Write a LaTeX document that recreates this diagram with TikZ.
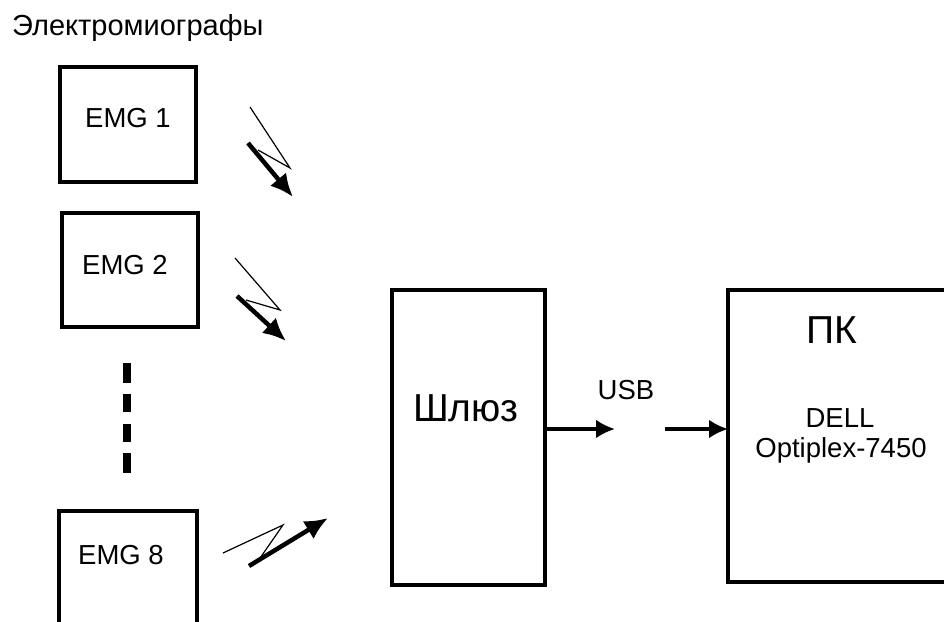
\documentclass[tikz,border=0pt]{standalone}
\usepackage{fontspec}
\setmainfont{Liberation Sans}
\usetikzlibrary{arrows.meta}
\begin{document}
\begin{tikzpicture}[x=1pt,y=-1pt,
  box/.style={draw,line width=3.2pt},
  lbl/.style={font=\fontsize{27.5}{30}\selectfont,inner sep=0pt},
  ttl/.style={font=\fontsize{29}{32}\selectfont,inner sep=0pt},
  big/.style={font=\fontsize{39}{42}\selectfont,inner sep=0pt},
  thinz/.style={line width=1.2pt},
  thickz/.style={line width=4.5pt,-{Latex[length=23pt,width=21pt]}},
  link/.style={line width=4.5pt,-{Latex[length=19pt,width=19pt]}},
  dashbar/.style={fill=black}]
\useasboundingbox (0,0) rectangle (944,621);
% title
\node[ttl,anchor=west] (title) at (12,28) {Электромиографы};
% EMG boxes
\draw[box] (60,67) rectangle (196,182);
\node[lbl] (e1) at (128,118) {EMG 1};
\draw[box] (62,213) rectangle (198,327);
\node[lbl] (e2) at (125,265) {EMG 2};
\draw[box] (59,640) -- (59,511) -- (197,511) -- (197,640);
\node[lbl] (e8) at (121,555) {EMG 8};
% dashes
\fill[dashbar] (123,363) rectangle (131,383);
\fill[dashbar] (123,394) rectangle (131,412);
\fill[dashbar] (123,424) rectangle (131,442);
\fill[dashbar] (123,453) rectangle (131,473);
% gateway
\node[box,minimum width=153pt,minimum height=295pt,inner sep=0pt] (gw) at (468.5,437.5) {};
\node[big] (gwt) at (466,408) {Шлюз};
% PC
\draw[box] (960,290) -- (728,290) -- (728,582) -- (960,582);
\coordinate (pcl) at (728,429);
\node[big] (pct) at (832,330) {ПК};
\node[lbl] (dell) at (840,418) {DELL};
\node[lbl] (opt) at (841,450) {Optiplex-7450};
% USB
\node[lbl] (usb) at (626,390) {USB};
\coordinate (a1e) at (615,429);
\coordinate (a2s) at (665,429);
\draw[link] (gw.east |- a1e) -- (a1e);
\draw[link] (a2s) -- (pcl);
% lightning 1
\coordinate (l1a) at (250,107);
\coordinate (l1b) at (290,168);
\coordinate (l1c) at (248,143);
\coordinate (l1d) at (293,197);
\draw[thinz] (l1a) -- (l1b) -- (258,150);
\draw[thickz] (l1c) -- (l1d);
% lightning 2
\coordinate (l2a) at (235,258);
\coordinate (l2b) at (280,310);
\coordinate (l2c) at (237,296);
\coordinate (l2d) at (286,341);
\draw[thinz] (l2a) -- (l2b) -- (246,300);
\draw[thickz] (l2c) -- (l2d);
% lightning 3
\coordinate (l3a) at (223,553);
\coordinate (l3b) at (283,525);
\coordinate (l3c) at (249,566);
\coordinate (l3d) at (328,518);
\draw[thinz] (l3a) -- (l3b) -- (258,561);
\draw[thickz] (l3c) -- (l3d);
\end{tikzpicture}
\end{document}
